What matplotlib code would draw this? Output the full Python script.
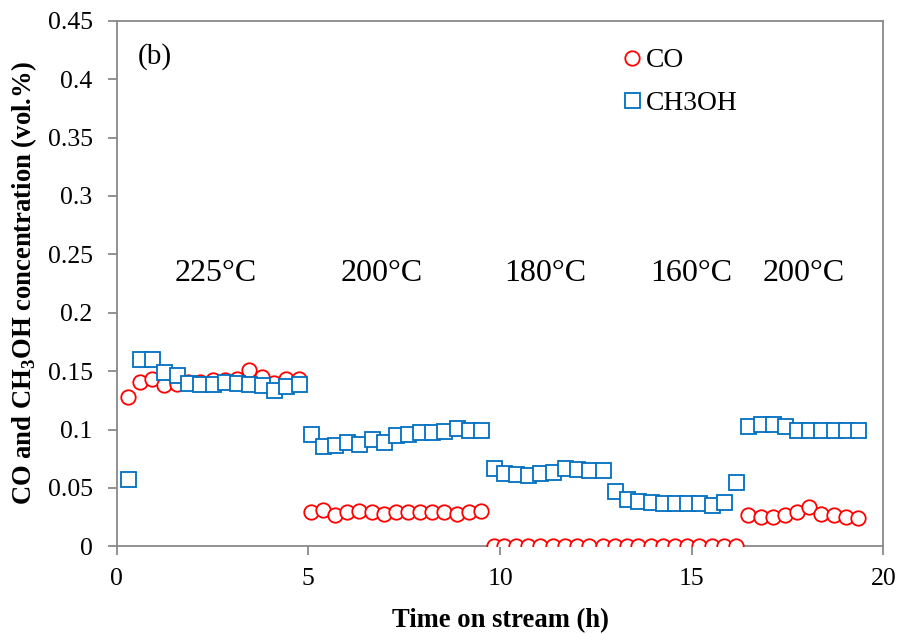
import matplotlib as mpl
mpl.use('Agg')
import matplotlib.pyplot as plt

mpl.rcParams['font.family'] = 'serif'
mpl.rcParams['font.serif'] = ['Liberation Serif', 'DejaVu Serif']
mpl.rcParams['mathtext.fontset'] = 'custom'
mpl.rcParams['mathtext.rm'] = 'Liberation Serif'
mpl.rcParams['mathtext.bf'] = 'Liberation Serif:bold'

mpl.rcParams['xtick.direction'] = 'out'
mpl.rcParams['ytick.direction'] = 'out'

# time on stream, h
time_h = [0.29, 0.61, 0.92, 1.23, 1.57, 1.86, 2.17, 2.51, 2.83, 3.14, 3.45,
          3.79, 4.10, 4.41, 4.75,
          5.06, 5.37, 5.70, 6.02, 6.33, 6.65, 6.97, 7.28, 7.59, 7.91, 8.23,
          8.55, 8.87, 9.18, 9.50,
          9.83, 10.10, 10.42, 10.74, 11.05, 11.39, 11.70, 12.00, 12.33, 12.68,
          13.00, 13.31, 13.61, 13.93, 14.24, 14.56, 14.87, 15.19, 15.54, 15.85,
          16.16,
          16.48, 16.80, 17.11, 17.43, 17.75, 18.07, 18.37, 18.70, 19.02, 19.33]

co = [0.128, 0.141, 0.143, 0.138, 0.139, 0.141, 0.141, 0.142, 0.142, 0.143,
      0.151, 0.145, 0.140, 0.143, 0.143,
      0.029, 0.031, 0.027, 0.029, 0.030, 0.029, 0.028, 0.029, 0.029, 0.029,
      0.029, 0.029, 0.028, 0.029, 0.030,
      0, 0, 0, 0, 0, 0, 0, 0, 0, 0, 0, 0, 0, 0, 0, 0, 0, 0, 0, 0, 0,
      0.027, 0.025, 0.025, 0.027, 0.029, 0.034, 0.028, 0.027, 0.025, 0.024]

ch3oh = [0.058, 0.160, 0.160, 0.149, 0.147, 0.140, 0.139, 0.139, 0.141, 0.140,
         0.139, 0.138, 0.134, 0.137, 0.139,
         0.096, 0.086, 0.087, 0.089, 0.088, 0.092, 0.089, 0.0955, 0.096, 0.098,
         0.0975, 0.099, 0.101, 0.100, 0.100,
         0.067, 0.0625, 0.062, 0.061, 0.063, 0.064, 0.067, 0.066, 0.065, 0.065,
         0.047, 0.0405, 0.039, 0.038, 0.037, 0.037, 0.0375, 0.0375, 0.035,
         0.038, 0.055,
         0.103, 0.105, 0.105, 0.103, 0.100, 0.100, 0.100, 0.100, 0.0995, 0.100]

# temperature labels along the run
temp_labels = ['225°C', '200°C', '180°C', '160°C', '200°C']
temp_x = [2.58, 6.91, 11.17, 15.0, 17.92]
temp_y = 0.234

grey = '#898989'

fig = plt.figure(figsize=(9.01, 6.34), dpi=100)
ax = fig.add_axes([0.1295, 0.1383, 0.851, 0.829])

ax.plot(time_h, co, 'o', ms=10.4, mew=1.3, mec='#FF0000', mfc='white',
        label='CO', zorder=3)
ax.plot(time_h, ch3oh, 's', ms=10.8, mew=1.3, mec='#0070C0', mfc='white',
        label='CH3OH', zorder=4)

for tx, tl in zip(temp_x, temp_labels):
    ax.text(tx, temp_y, tl, fontsize=23, ha='center', va='center')

ax.text(1.0, 0.419, '(b)', fontsize=21, ha='center', va='center')

ax.set_xlim(0, 20)
ax.set_ylim(0, 0.45)
ax.set_xticks([0, 5, 10, 15, 20])
ax.set_yticks([0, 0.05, 0.1, 0.15, 0.2, 0.25, 0.3, 0.35, 0.4, 0.45])
ax.set_yticklabels(['0', '0.05', '0.1', '0.15', '0.2', '0.25', '0.3', '0.35',
                    '0.4', '0.45'])

for s in ax.spines.values():
    s.set_color(grey)
    s.set_linewidth(1.3)
ax.tick_params(axis='both', colors=grey, labelcolor='black', labelsize=18.5,
               length=6.3, width=1.3)
ax.tick_params(axis='y', pad=11)
ax.tick_params(axis='x', pad=9.5)

ax.set_xlabel('Time on stream (h)', fontsize=19.2, fontweight='bold',
              labelpad=13)
ax.set_ylabel(r'CO and CH$_\mathbf{3}$OH concentration (vol.%)',
              fontsize=19.2, fontweight='bold', labelpad=6)

leg = ax.legend(loc='upper left', bbox_to_anchor=(0.658, 0.948), frameon=False,
                fontsize=19.8, handlelength=0.8, handletextpad=0.1,
                labelspacing=0.62, borderpad=0, borderaxespad=0)

fig.savefig('out.png', dpi=100)
